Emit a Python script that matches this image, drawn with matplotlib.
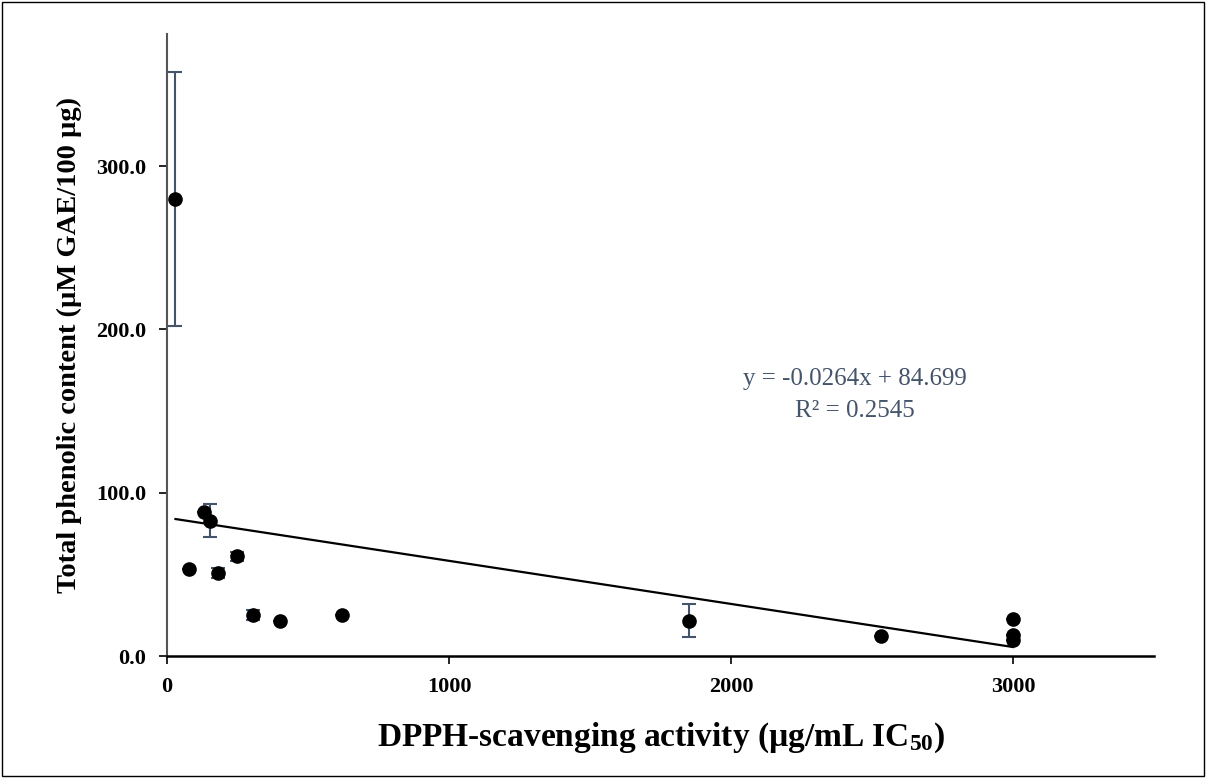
import numpy as np
import matplotlib
matplotlib.use("Agg")
import matplotlib.pyplot as plt
from matplotlib.patches import Rectangle

# DPPH IC50 (ug/mL) vs total phenolic content
dpph = [30, 131, 152, 78, 181, 248, 305, 401, 620, 1851, 2532, 3000, 3000, 3000]
tpc = [280.0, 88.0, 83.0, 53.0, 51.0, 61.0, 25.0, 21.5, 25.0, 21.6, 12.4, 22.4, 12.8, 9.8]
tpc_err = [78.0, 0.0, 10.0, 0.0, 3.0, 3.0, 3.0, 0.0, 0.0, 10.0, 0.0, 0.0, 0.0, 0.0]

slope = -0.0264
intercept = 84.699
r2 = 0.2545

xticks = [0, 1000, 2000, 3000]
yticks = [0, 100, 200, 300]

plt.rcParams['font.family'] = ['Liberation Serif', 'DejaVu Serif']
plt.rcParams['mathtext.fontset'] = 'custom'
plt.rcParams['mathtext.rm'] = 'Liberation Serif:bold'
plt.rcParams['mathtext.it'] = 'Liberation Serif:bold'
plt.rcParams['mathtext.bf'] = 'Liberation Serif:bold'

fig = plt.figure(figsize=(12.06, 7.78), dpi=100)
ax = fig.add_axes([0.1385, 0.1568, 0.8184, 0.7995])

err_col = '#44546A'
ax.errorbar(dpph, tpc, yerr=tpc_err, fmt='none', ecolor=err_col, elinewidth=1.5,
            capsize=5, capthick=1.5, zorder=2)
ax.plot(dpph, tpc, 'o', color='black', markersize=9.5, zorder=3)

xfit = np.array([min(dpph), max(dpph)])
ax.plot(xfit, slope * xfit + intercept, color='black', linewidth=1.6, zorder=2)

ax.text(2440, 169.5, 'y = -0.0264x + 84.699', color=err_col, fontsize=18,
        ha='center', va='center')
ax.text(2440, 150, 'R² = 0.2545', color=err_col, fontsize=18,
        ha='center', va='center')

ax.set_xlim(0, 3500)
ax.set_ylim(0, 381)
ax.set_xticks(xticks)
ax.set_yticks(yticks)
ax.set_xticklabels([str(t) for t in xticks], fontsize=16, fontweight='bold')
ax.set_yticklabels(['%.1f' % t for t in yticks], fontsize=16, fontweight='bold')
ax.tick_params(direction='out', length=6, width=1.2, colors='black')
ax.tick_params(axis='x', pad=9)
ax.tick_params(axis='y', pad=9)

for s in ['top', 'right']:
    ax.spines[s].set_visible(False)
ax.spines['left'].set_color('#555555')
ax.spines['left'].set_linewidth(1.5)
ax.spines['bottom'].set_linewidth(1.8)

ax.set_xlabel('DPPH-scavenging activity (µg/mL IC$_{50}$)', fontsize=24,
              fontweight='bold', labelpad=17)
ax.set_ylabel('Total phenolic content (µM GAE/100 µg)', fontsize=20.5,
              fontweight='bold', labelpad=10)

fig.patches.append(Rectangle((0.002, 0.002), 0.996, 0.996, transform=fig.transFigure,
                             fill=False, edgecolor='black', linewidth=1))

fig.savefig('out.png', dpi=100)
